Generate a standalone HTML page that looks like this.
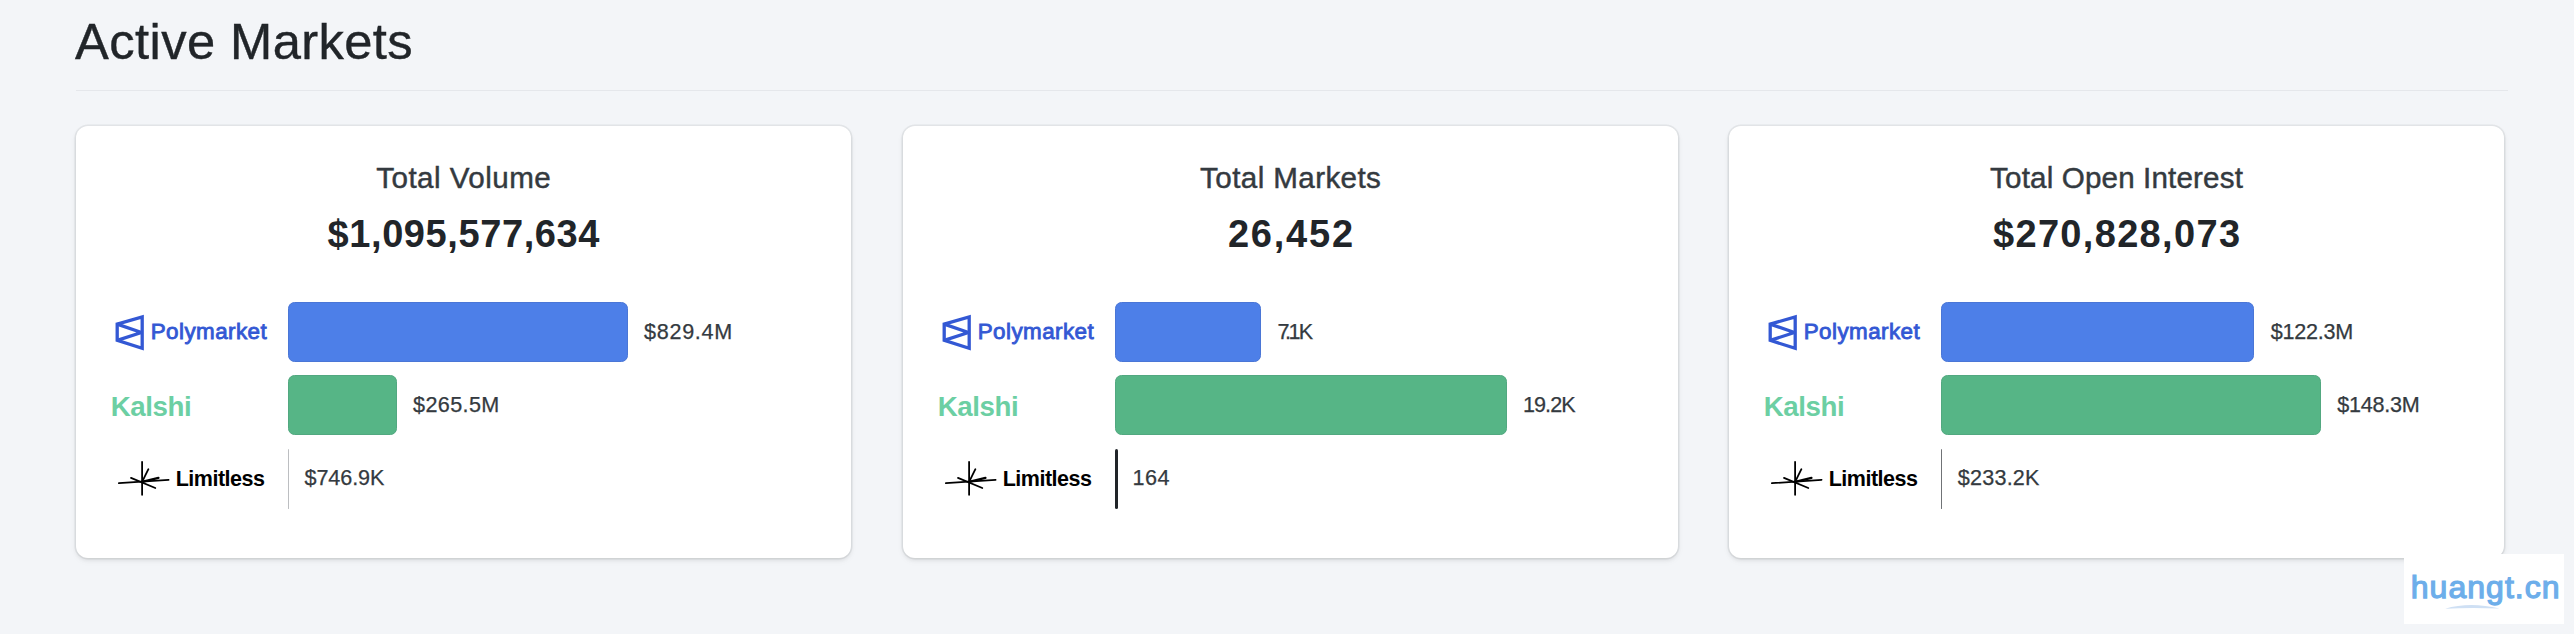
<!DOCTYPE html>
<html><head><meta charset="utf-8"><title>Active Markets</title>
<style>
*{box-sizing:border-box;margin:0;padding:0}
html,body{width:2574px;height:634px;overflow:hidden;background:#f3f5f8;font-family:"Liberation Sans",sans-serif;color:#212529}
.abs{position:absolute}
h1{position:absolute;left:75.1px;top:14.2px;-webkit-text-stroke:.4px #212529;font-size:50.7px;font-weight:400;line-height:56px;color:#212529;white-space:nowrap;letter-spacing:.4px}
.hr{position:absolute;left:76px;top:89.9px;width:2431.5px;height:1.6px;background:#e5e7eb}
.grp{position:absolute;top:0;width:0;height:0}
.card{position:absolute;left:76px;top:126px;width:775px;height:432px;background:#fff;border-radius:12px;box-shadow:0 0 0 1.5px rgba(20,25,35,.062),0 2px 4px rgba(0,0,0,.09),0 3px 8px rgba(0,0,0,.035)}
.ttl{position:absolute;left:76px;width:775px;top:160.6px;text-align:center;font-size:29.6px;line-height:34px;color:#343a40;white-space:nowrap;letter-spacing:.45px;text-indent:.45px;-webkit-text-stroke:.45px #343a40}
.big{position:absolute;left:76px;width:775px;top:211.5px;text-align:center;font-size:38px;line-height:44px;font-weight:700;color:#212529;white-space:nowrap;letter-spacing:.6px;text-indent:.6px}
.bar{position:absolute;left:288px;height:60px;border-radius:6.5px;border:1px solid}
.blue{background:#4d7fe8;border-color:#4a76d6}
.green{background:#56b586;border-color:#52a880}
.val{position:absolute;font-size:21.6px;line-height:24px;color:#343a40;white-space:nowrap;letter-spacing:.7px;-webkit-text-stroke:.25px #343a40}
.lg{position:absolute;white-space:nowrap;font-weight:700}
.pm{left:150.7px;top:317.6px;font-size:22.4px;line-height:28px;color:#3358d4;letter-spacing:.45px;font-weight:400;-webkit-text-stroke:.85px #3358d4}
.ka{left:110.7px;top:390.6px;font-size:27.7px;line-height:32px;color:#6ccfa3;letter-spacing:-.4px}
.li{left:175.7px;top:465.5px;font-size:21.5px;line-height:26px;color:#000;letter-spacing:-.5px}
.ic{position:absolute;overflow:visible}
.wm{position:absolute;left:2404px;top:554px;width:160px;height:70px;background:#fff}
.wmt{position:absolute;left:2410.7px;top:566.9px;font-size:32px;line-height:40px;color:#6daeea;-webkit-text-stroke:1.25px #6daeea;white-space:nowrap;letter-spacing:1.05px}
</style></head><body>
<h1>Active Markets</h1>
<div class="hr"></div>
<div class="grp" style="left:0px">
<div class="card"></div>
<div class="ttl" style="letter-spacing:0.45px;text-indent:0.45px">Total Volume</div><div class="big" style="letter-spacing:0.6px;text-indent:0.6px">$1,095,577,634</div>
<svg class="ic" style="left:110px;top:310px" width="40" height="46" viewBox="110 310 40 46"><g fill="none" stroke="#3358d4" stroke-width="3.3" stroke-linejoin="miter"><path d="M117.2 324.1 L142.2 316.9 L142.2 348.3 L117.2 340.4 Z"/><path d="M117.2 324.1 L141.5 332.5 L117.2 340.4" stroke-linejoin="bevel"/></g></svg><div class="lg pm">Polymarket</div>
<div class="lg ka">Kalshi</div>
<svg class="ic" style="left:114px;top:456px" width="60" height="44" viewBox="114 456 60 44"><g fill="none" stroke="#000" stroke-width="1.8" stroke-linecap="round"><path d="M142.1 461.8 V494.8"/><path d="M118.9 483.2 L168.6 479.8"/><path d="M142.1 481.9 L148.4 469.2"/><path d="M131 477.9 L155.3 488"/><path d="M142.1 481.9 L158.4 477.9" stroke-width="2.4"/></g></svg><div class="lg li">Limitless</div>
<div class="bar blue" style="top:302px;width:340px"></div>
<div class="val" style="left:644px;top:319.8px;letter-spacing:0.7px">$829.4M</div>
<div class="bar green" style="top:375px;width:109px"></div>
<div class="val" style="left:413px;top:392.8px;letter-spacing:0.38px">$265.5M</div>
<div class="abs" style="left:288px;top:448.5px;width:1px;height:60px;border-radius:1.5px;background:#bcbec1"></div>
<div class="val" style="left:304.5px;top:465.8px;letter-spacing:-0.1px">$746.9K</div>
</div>
<div class="grp" style="left:827px">
<div class="card"></div>
<div class="ttl" style="letter-spacing:0.4px;text-indent:0.4px">Total Markets</div><div class="big" style="letter-spacing:1.8px;text-indent:1.8px">26,452</div>
<svg class="ic" style="left:110px;top:310px" width="40" height="46" viewBox="110 310 40 46"><g fill="none" stroke="#3358d4" stroke-width="3.3" stroke-linejoin="miter"><path d="M117.2 324.1 L142.2 316.9 L142.2 348.3 L117.2 340.4 Z"/><path d="M117.2 324.1 L141.5 332.5 L117.2 340.4" stroke-linejoin="bevel"/></g></svg><div class="lg pm">Polymarket</div>
<div class="lg ka">Kalshi</div>
<svg class="ic" style="left:114px;top:456px" width="60" height="44" viewBox="114 456 60 44"><g fill="none" stroke="#000" stroke-width="1.8" stroke-linecap="round"><path d="M142.1 461.8 V494.8"/><path d="M118.9 483.2 L168.6 479.8"/><path d="M142.1 481.9 L148.4 469.2"/><path d="M131 477.9 L155.3 488"/><path d="M142.1 481.9 L158.4 477.9" stroke-width="2.4"/></g></svg><div class="lg li">Limitless</div>
<div class="bar blue" style="top:302px;width:146px"></div>
<div class="val" style="left:450.4px;top:319.8px;letter-spacing:0px"><span style="letter-spacing:-4.4px">7</span><span style="letter-spacing:-2.5px">.</span><span style="letter-spacing:-1.8px">1</span>K</div>
<div class="bar green" style="top:375px;width:392px"></div>
<div class="val" style="left:696px;top:392.8px;letter-spacing:-0.95px">19.2K</div>
<div class="abs" style="left:288px;top:448.5px;width:3px;height:60px;border-radius:1.5px;background:#212529"></div>
<div class="val" style="left:305.5px;top:465.8px;letter-spacing:0.45px">164</div>
</div>
<div class="grp" style="left:1653px">
<div class="card"></div>
<div class="ttl" style="letter-spacing:0.15px;text-indent:0.15px">Total Open Interest</div><div class="big" style="letter-spacing:1.33px;text-indent:1.33px">$270,828,073</div>
<svg class="ic" style="left:110px;top:310px" width="40" height="46" viewBox="110 310 40 46"><g fill="none" stroke="#3358d4" stroke-width="3.3" stroke-linejoin="miter"><path d="M117.2 324.1 L142.2 316.9 L142.2 348.3 L117.2 340.4 Z"/><path d="M117.2 324.1 L141.5 332.5 L117.2 340.4" stroke-linejoin="bevel"/></g></svg><div class="lg pm">Polymarket</div>
<div class="lg ka">Kalshi</div>
<svg class="ic" style="left:114px;top:456px" width="60" height="44" viewBox="114 456 60 44"><g fill="none" stroke="#000" stroke-width="1.8" stroke-linecap="round"><path d="M142.1 461.8 V494.8"/><path d="M118.9 483.2 L168.6 479.8"/><path d="M142.1 481.9 L148.4 469.2"/><path d="M131 477.9 L155.3 488"/><path d="M142.1 481.9 L158.4 477.9" stroke-width="2.4"/></g></svg><div class="lg li">Limitless</div>
<div class="bar blue" style="top:302px;width:313px"></div>
<div class="val" style="left:617.7px;top:319.8px;letter-spacing:-0.25px">$122.3M</div>
<div class="bar green" style="top:375px;width:380px"></div>
<div class="val" style="left:684.2px;top:392.8px;letter-spacing:-0.25px">$148.3M</div>
<div class="abs" style="left:288px;top:448.5px;width:1px;height:60px;border-radius:1.5px;background:#707376"></div>
<div class="val" style="left:304.8px;top:465.8px;letter-spacing:0.2px">$233.2K</div>
</div>
<div class="wm"></div><div class="wmt">huangt.cn</div><svg class="ic" style="left:2440px;top:600px" width="70" height="14" viewBox="2440 600 70 14"><path d="M2445 608.8 Q2470 601.4 2499.5 608.6 Q2470 607.4 2445 608.8 Z" fill="#cfe0f4"/></svg>
</body></html>
